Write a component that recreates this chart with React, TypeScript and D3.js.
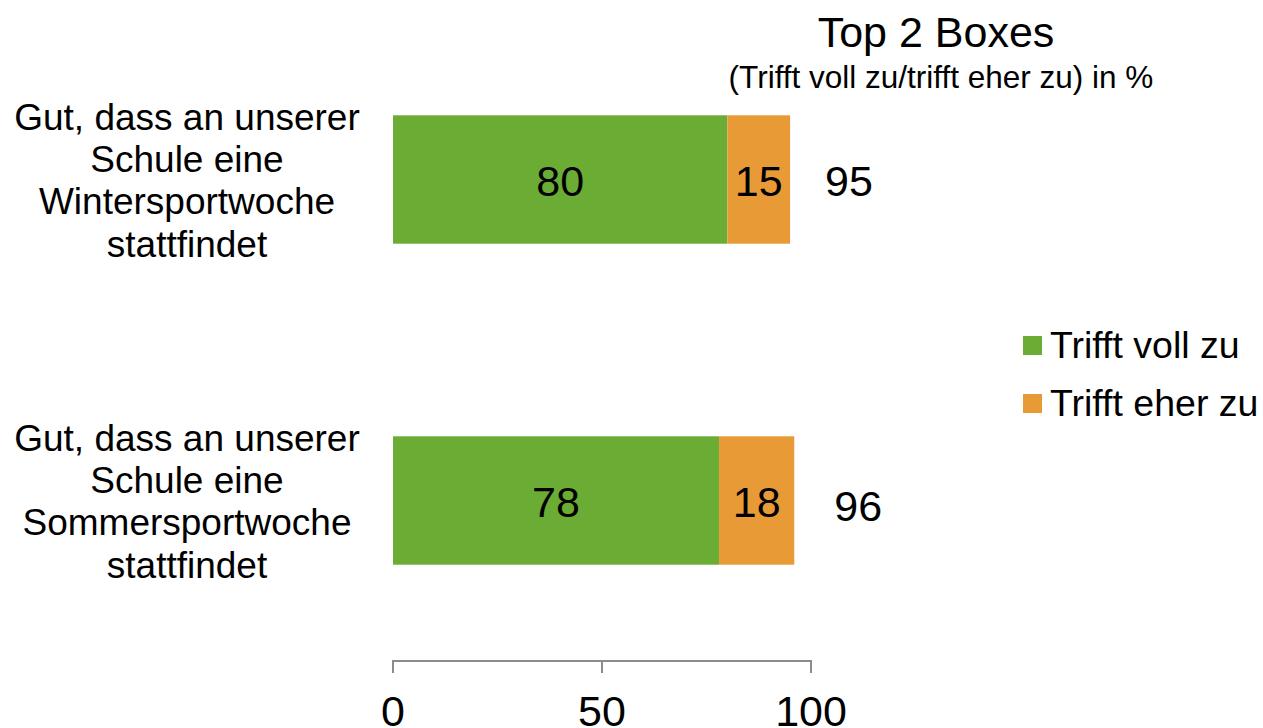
import * as d3 from "d3";

const categories = [
  ["Gut, dass an unserer", "Schule eine", "Wintersportwoche", "stattfindet"],
  ["Gut, dass an unserer", "Schule eine", "Sommersportwoche", "stattfindet"],
];
const seriesNames = ["Trifft voll zu", "Trifft eher zu"];
const trifftVoll = [80, 78];
const trifftEher = [15, 18];
const totals = [95, 96];
const xTicks = [0, 50, 100];
const colors = ["#6aac34", "#e89a36"];

const W = 1263;
const H = 728;
const FONT = "'Liberation Sans', Arial, Helvetica, sans-serif";

export default function App() {
  const x = d3.scaleLinear().domain([0, 100]).range([393, 811]);
  const y = d3
    .scaleBand<number>()
    .domain([0, 1])
    .range([19, 661])
    .paddingInner(0.6)
    .paddingOuter(0.3);

  const rows = categories.map((_, i) => {
    const stack = [trifftVoll[i], trifftEher[i]];
    let acc = 0;
    return stack.map((v, s) => {
      const x0 = acc;
      acc += v;
      return { s, v, x0, x1: acc };
    });
  });

  const bh = y.bandwidth();

  return (
    <svg
      width={W}
      height={H}
      style={{ position: "absolute", left: 0, top: 0, fontFamily: FONT }}
    >
      <rect width={W} height={H} fill="#ffffff" />
      <text x={936} y={47} fontSize={43} textAnchor="middle" fill="#000">
        Top 2 Boxes
      </text>
      <text x={941} y={88} fontSize={31.5} textAnchor="middle" fill="#000">
        (Trifft voll zu/trifft eher zu) in %
      </text>

      {rows.map((segs, i) => {
        const y0 = y(i)!;
        const cy = y0 + bh / 2;
        return (
          <g key={i}>
            {segs.map((d) => (
              <g key={d.s}>
                <rect
                  x={x(d.x0)}
                  y={y0}
                  width={x(d.x1) - x(d.x0)}
                  height={bh}
                  fill={colors[d.s]}
                />
                <text
                  x={(x(d.x0) + x(d.x1)) / 2}
                  y={cy + 16}
                  fontSize={43}
                  textAnchor="middle"
                  fill="#000"
                >
                  {d.v}
                </text>
              </g>
            ))}
            <text x={x(totals[i]) + 35 + i * 5} y={cy + 16 + i * 4} fontSize={43} fill="#000">
              {totals[i]}
            </text>
            {categories[i].map((line, k) => (
              <text
                key={k}
                x={187}
                y={cy - 50 + k * 42.4}
                fontSize={37}
                textAnchor="middle"
                fill="#000"
              >
                {line}
              </text>
            ))}
          </g>
        );
      })}

      <g>
        <line x1={x(0)} x2={x(100)} y1={661} y2={661} stroke="#8c8c8c" strokeWidth={2} />
        {xTicks.map((t) => (
          <g key={t}>
            <line x1={x(t)} x2={x(t)} y1={660} y2={673} stroke="#8c8c8c" strokeWidth={2} />
            <text x={x(t)} y={726} fontSize={43} textAnchor="middle" fill="#000">
              {t}
            </text>
          </g>
        ))}
      </g>

      {seriesNames.map((n, s) => (
        <g key={n} transform={`translate(1023, ${336 + s * 58})`}>
          <rect width={19} height={19} fill={colors[s]} />
          <text x={27} y={22} fontSize={37.5} fill="#000">
            {n}
          </text>
        </g>
      ))}
    </svg>
  );
}
